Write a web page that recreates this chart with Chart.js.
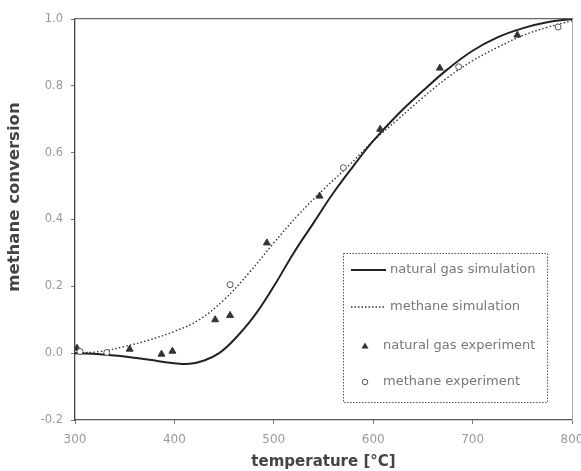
<!DOCTYPE html>
<html>
<head>
<meta charset="utf-8">
<script src="https://cdn.jsdelivr.net/npm/chart.js@4/dist/chart.umd.min.js"></script>
<style>
html,body{margin:0;padding:0;background:#fff;}
#wrap{width:581px;height:471px;position:relative;}
</style>
</head>
<body>
<div id="wrap"><canvas id="c" width="581" height="471"></canvas></div>
<script>
// ---- data ----
const ngSimT = [300,325,350,375,400,415,430,445,460,480,500,520,540,560,580,600,625,650,675,700,725,750,775,800];
const ngSimY = [0.0,-0.003,-0.01,-0.02,-0.03,-0.032,-0.022,0.0,0.04,0.11,0.20,0.30,0.39,0.48,0.56,0.635,0.715,0.785,0.85,0.905,0.945,0.972,0.99,1.0];

const meSimT = [300,325,350,375,400,425,450,475,500,525,550,575,600,625,650,675,700,725,750,775,800];
const meSimY = [0.0,0.005,0.02,0.04,0.065,0.10,0.16,0.24,0.33,0.415,0.49,0.56,0.635,0.70,0.765,0.825,0.875,0.915,0.95,0.975,0.995];

const ngExpT = [302,355,387,398,441,456,493,546,607,667,745];
const ngExpY = [0.015,0.012,-0.003,0.006,0.10,0.113,0.33,0.47,0.67,0.853,0.952];

const meExpT = [305,332,456,570,686,786];
const meExpY = [0.005,0.002,0.205,0.555,0.857,0.976];

const xTicks = [300,400,500,600,700,800];
const yTicks = [-0.2,0.0,0.2,0.4,0.6,0.8,1.0];

const labels = ['natural gas simulation','methane simulation','natural gas experiment','methane experiment'];
const yTitle = 'methane conversion';
const xTitle = 'temperature [°C]';

const pts = (xs, ys) => xs.map((x, i) => ({x: x, y: ys[i]}));

const legendPlugin = {
  id: 'boxLegend',
  afterDraw(chart) {
    const ctx = chart.ctx;
    // y-axis title (drawn here so it can sit slightly above the axis centre, as in the source)
    ctx.save();
    ctx.translate(15, 197);
    ctx.rotate(-Math.PI / 2);
    ctx.font = 'bold 16.5px "DejaVu Sans", sans-serif';
    ctx.fillStyle = '#444';
    ctx.textAlign = 'center';
    ctx.textBaseline = 'middle';
    ctx.fillText(yTitle, 0, 0);
    ctx.restore();

    const x0 = 343, y0 = 253, w = 204, h = 149;
    ctx.save();
    ctx.fillStyle = '#fff';
    ctx.fillRect(x0, y0, w, h);
    ctx.setLineDash([1.5, 1.5]);
    ctx.strokeStyle = '#555';
    ctx.lineWidth = 1;
    ctx.strokeRect(x0 + 0.5, y0 + 0.5, w, h);
    ctx.setLineDash([]);
    const rows = [270, 307, 346, 382];
    ctx.font = '13px "DejaVu Sans", sans-serif';
    ctx.textBaseline = 'middle';
    chart.data.datasets.forEach((ds, i) => {
      const y = rows[i];
      if (i === 0) {
        ctx.strokeStyle = '#222'; ctx.lineWidth = 2.2; ctx.setLineDash([]);
        ctx.beginPath(); ctx.moveTo(351, y); ctx.lineTo(386, y); ctx.stroke();
      } else if (i === 1) {
        ctx.strokeStyle = '#333'; ctx.lineWidth = 1.3; ctx.setLineDash([1.5, 2]);
        ctx.beginPath(); ctx.moveTo(351, y); ctx.lineTo(385, y); ctx.stroke();
        ctx.setLineDash([]);
      } else if (i === 2) {
        ctx.fillStyle = '#333';
        ctx.beginPath(); ctx.moveTo(365, y - 3.5); ctx.lineTo(368.5, y + 2.5); ctx.lineTo(361.5, y + 2.5); ctx.closePath(); ctx.fill();
      } else {
        ctx.strokeStyle = '#555'; ctx.lineWidth = 1;
        ctx.beginPath(); ctx.arc(365, y, 2.8, 0, Math.PI * 2); ctx.stroke();
      }
      ctx.fillStyle = '#777';
      ctx.fillText(ds.label, i < 2 ? 390 : 383, y);
    });
    ctx.restore();
  }
};

new Chart(document.getElementById('c'), {
  type: 'scatter',
  data: {
    datasets: [
      {label: labels[0], data: pts(ngSimT, ngSimY), showLine: true, borderColor: '#222', borderWidth: 2, pointRadius: 0, tension: 0.4, order: 2},
      {label: labels[1], data: pts(meSimT, meSimY), showLine: true, borderColor: '#333', borderWidth: 1.4, borderDash: [1.5, 2.2], pointRadius: 0, tension: 0.4, order: 3},
      {label: labels[2], data: pts(ngExpT, ngExpY), showLine: false, pointStyle: 'triangle', pointRadius: 4, backgroundColor: '#333', borderColor: '#333', borderWidth: 1, order: 1},
      {label: labels[3], data: pts(meExpT, meExpY), showLine: false, pointStyle: 'circle', pointRadius: 3, backgroundColor: '#fff', borderColor: '#555', borderWidth: 1, order: 0}
    ]
  },
  options: {
    responsive: false,
    animation: false,
    devicePixelRatio: 1,
    layout: {padding: {left: 0, right: 9, top: 19, bottom: 0}},
    plugins: {legend: {display: false}, tooltip: {enabled: false}},
    scales: {
      x: {
        type: 'linear', min: 300, max: 800, position: 'bottom',
        afterBuildTicks: (s) => { s.ticks = xTicks.map(v => ({value: v})); },
        afterFit: (s) => { s.height = 51; s.paddingLeft = 0; s.paddingRight = 0; },
        ticks: {color: '#999', font: {size: 12, family: '"DejaVu Sans", sans-serif'}, padding: 9, maxRotation: 0},
        grid: {drawOnChartArea: false, drawTicks: true, tickLength: 4, color: '#777'},
        border: {display: true, color: '#555', width: 1.2},
        title: {display: true, text: xTitle, color: '#444', font: {size: 15, weight: 'bold', family: '"DejaVu Sans", sans-serif'}, padding: {top: 1, bottom: 0}}
      },
      y: {
        type: 'linear', min: -0.2, max: 1.0, position: 'left',
        afterBuildTicks: (s) => { s.ticks = yTicks.map(v => ({value: v})); },
        afterFit: (s) => { s.width = 75; s.paddingTop = 0; s.paddingBottom = 0; },
        ticks: {color: '#999', font: {size: 11.5, family: '"DejaVu Sans", sans-serif'}, padding: 8, callback: (v) => v.toFixed(1)},
        grid: {drawOnChartArea: false, drawTicks: true, tickLength: 4, color: '#777'},
        border: {display: true, color: '#444', width: 1.3, dash: [1.5, 1.5]},
        title: {display: false}
      },
      xTop: {
        type: 'linear', min: 300, max: 800, position: 'top',
        afterFit: (s) => { s.height = 0; s.paddingLeft = 0; s.paddingRight = 0; },
        ticks: {display: false},
        grid: {display: false},
        border: {display: true, color: '#666', width: 1.2, dash: [1.5, 1.5]}
      },
      yRight: {
        type: 'linear', min: -0.2, max: 1.0, position: 'right',
        afterFit: (s) => { s.width = 0; s.paddingTop = 0; s.paddingBottom = 0; },
        ticks: {display: false},
        grid: {display: false},
        border: {display: true, color: '#aaa', width: 1, dash: [1.5, 3]}
      }
    }
  },
  plugins: [legendPlugin]
});
</script>
</body>
</html>
